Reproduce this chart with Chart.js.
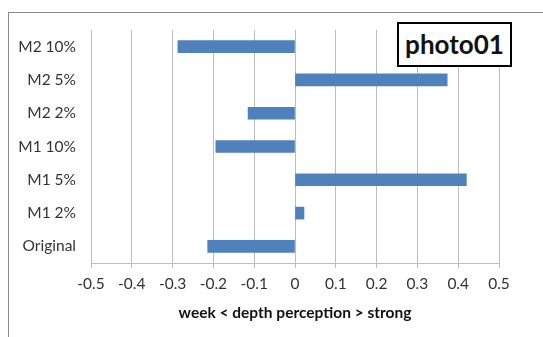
<!DOCTYPE html>
<html lang="en">
<head>
  <meta charset="UTF-8">
  <title>photo01</title>
  <script src="https://cdn.jsdelivr.net/npm/chart.js"></script>
  <style>
    body {
      margin: 0;
      background: #fff;
      font-family: Lato, "Open Sans", sans-serif;
    }

    .frame {
      position: relative;
      width: 543px;
      height: 337px;
      overflow: hidden;
    }

    .border {
      position: absolute;
      left: 8px;
      top: 12px;
      width: 600px;
      height: 400px;
      border-left: 1.5px solid #8a8a8a;
      border-top: 1.5px solid #8a8a8a;
    }

    .label-box {
      position: absolute;
      left: 397px;
      top: 22px;
      width: 111px;
      height: 41px;
      border: 2px solid #000;
      background: #fff;
      font-weight: bold;
      font-size: 26px;
      line-height: 41px;
      text-align: center;
      color: #111;
    }

    canvas {
      position: absolute;
      left: 0;
      top: 0;
    }
  </style>
</head>
<body>
  <div class="frame">
    <div class="border"></div>
    <canvas id="chart" width="543" height="337"></canvas>
    <div class="label-box">photo01</div>
  </div>

  <script>
    // categories, top to bottom
    const categories = ["M2 10%", "M2 5%", "M2 2%", "M1 10%", "M1 5%", "M1 2%", "Original"];
    const depthValues = [-0.287, 0.373, -0.115, -0.194, 0.42, 0.022, -0.214];
    const xTicks = [-0.5, -0.4, -0.3, -0.2, -0.1, 0, 0.1, 0.2, 0.3, 0.4, 0.5];

    const textColor = "#333";
    const gridColor = "#bdbdbd";

    const ctx = document.getElementById("chart").getContext("2d");

    new Chart(ctx, {
      type: "bar",
      data: {
        labels: categories,
        datasets: [
          {
            data: depthValues,
            backgroundColor: "#4f81bd",
            barThickness: 12,
          },
        ],
      },
      options: {
        indexAxis: "y",
        responsive: false,
        animation: false,
        layout: {
          padding: { top: 30, right: 44, bottom: 8, left: 0 },
        },
        plugins: {
          legend: { display: false },
          tooltip: { enabled: false },
        },
        scales: {
          x: {
            min: -0.5,
            max: 0.5,
            afterBuildTicks: (scale) => {
              scale.ticks = xTicks.map((v) => ({ value: v }));
            },
            afterFit: (scale) => {
              scale.height = 66;
            },
            grid: {
              color: gridColor,
              tickLength: 5,
            },
            border: { color: gridColor },
            ticks: {
              color: textColor,
              font: { family: "Lato", size: 15.5 },
              padding: 7,
              maxRotation: 0,
              callback: (v) => String(v),
            },
            title: {
              display: true,
              text: "week < depth perception > strong",
              color: "#111",
              font: { family: "Lato", size: 15.5, weight: "bold" },
              padding: { top: 4, bottom: 7 },
            },
          },
          y: {
            afterFit: (scale) => {
              scale.width = 91;
            },
            grid: { display: false, drawTicks: false },
            border: { display: true, color: gridColor },
            ticks: {
              color: textColor,
              font: { family: "Lato", size: 15.5 },
              padding: 15,
            },
          },
        },
      },
    });
  </script>
</body>
</html>
